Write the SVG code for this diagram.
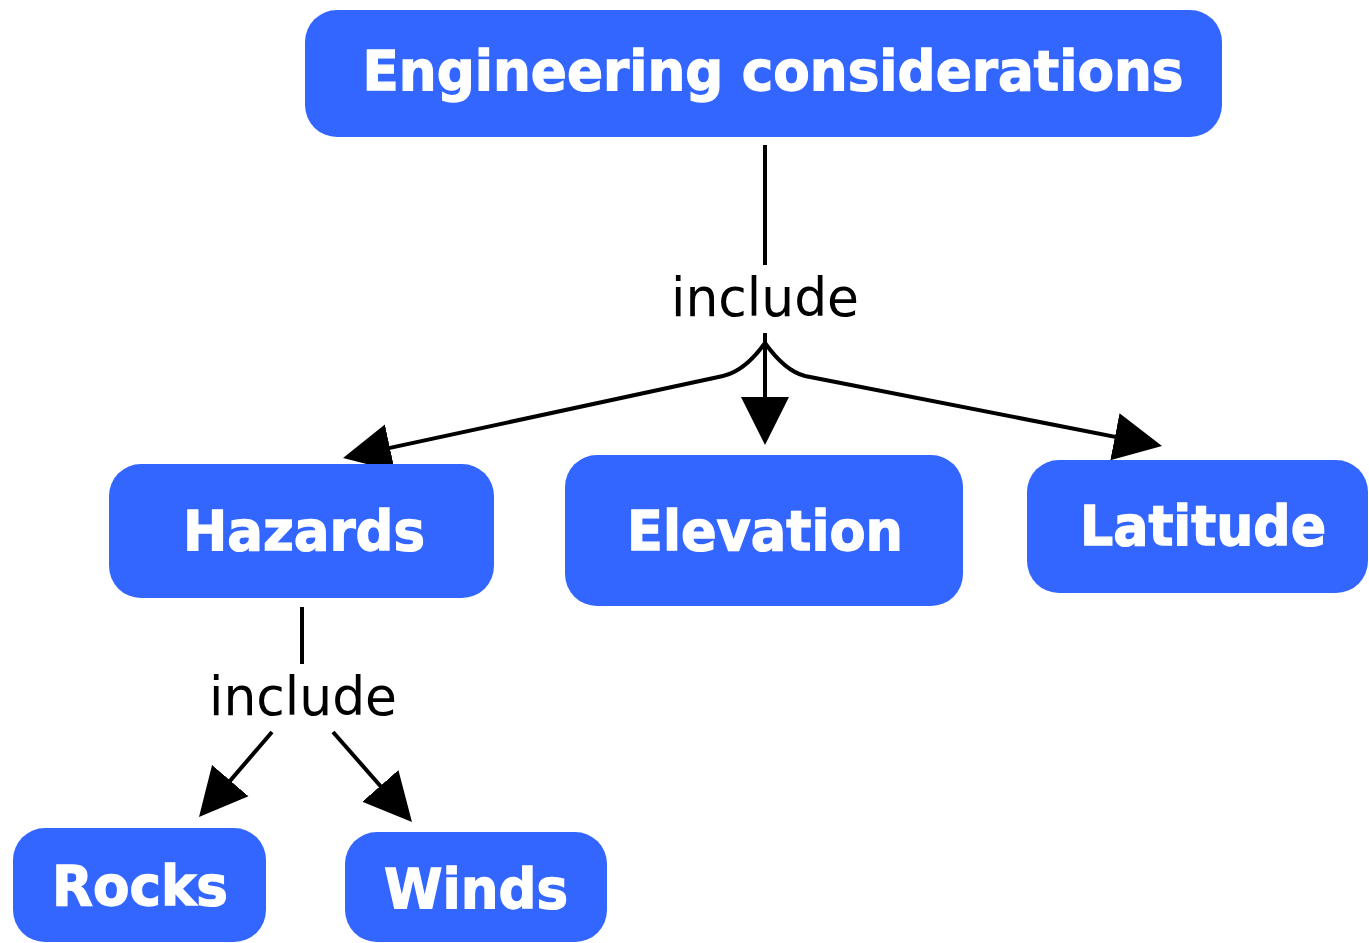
<svg xmlns="http://www.w3.org/2000/svg" width="1369" height="943" viewBox="0 0 1369 943">
<style>
.node{fill:#3366ff;}
.nt{font-family:"DejaVu Sans",Verdana,sans-serif;font-weight:bold;font-size:56px;fill:#ffffff;stroke:#ffffff;stroke-width:1.3;}
.lbl{font-family:"DejaVu Sans",Verdana,sans-serif;font-size:53px;fill:#000000;}
.ln{stroke:#000;stroke-width:4;fill:none;}
</style>
<defs>
<marker id="ah" markerUnits="userSpaceOnUse" markerWidth="50" markerHeight="50" refX="38" refY="24" orient="auto" viewBox="0 0 50 48">
<path d="M0,0 L48,24 L0,48 z" fill="#000"/>
</marker>
</defs>
<rect width="1369" height="943" fill="#ffffff"/>
<g id="connectors">
<line class="ln" x1="765" y1="145" x2="765" y2="265"/>
<text class="lbl" x="765" y="316" text-anchor="middle" textLength="188" lengthAdjust="spacingAndGlyphs">include</text>
<line class="ln" x1="765" y1="333" x2="765" y2="435" marker-end="url(#ah)"/>
<path class="ln" d="M765,343 Q745,371 723,376 L352.8,455.9" marker-end="url(#ah)"/>
<path class="ln" d="M765,343 Q785,371 805,376 L1152.2,444.1" marker-end="url(#ah)"/>
<line class="ln" x1="302" y1="607" x2="302" y2="664"/>
<text class="lbl" x="303" y="715" text-anchor="middle" textLength="188" lengthAdjust="spacingAndGlyphs">include</text>
<line class="ln" x1="272" y1="732" x2="205.5" y2="809.4" marker-end="url(#ah)"/>
<line class="ln" x1="333" y1="732" x2="405.4" y2="814.5" marker-end="url(#ah)"/>
</g>
<g id="n-engineering">
<rect class="node" x="305" y="10" width="917" height="127" rx="32"/>
<text class="nt" x="773" y="90" text-anchor="middle" textLength="821" lengthAdjust="spacingAndGlyphs">Engineering considerations</text>
</g>
<g id="n-hazards">
<rect class="node" x="109" y="464" width="385" height="134" rx="32"/>
<text class="nt" x="304" y="550" text-anchor="middle" textLength="242" lengthAdjust="spacingAndGlyphs">Hazards</text>
</g>
<g id="n-elevation">
<rect class="node" x="565" y="455" width="398" height="151" rx="32"/>
<text class="nt" x="765" y="550" text-anchor="middle" textLength="276" lengthAdjust="spacingAndGlyphs">Elevation</text>
</g>
<g id="n-latitude">
<rect class="node" x="1027" y="460" width="341" height="133" rx="32"/>
<text class="nt" x="1203" y="545" text-anchor="middle" textLength="246" lengthAdjust="spacingAndGlyphs">Latitude</text>
</g>
<g id="n-rocks">
<rect class="node" x="13" y="828" width="253" height="114" rx="32"/>
<text class="nt" x="140" y="905" text-anchor="middle" textLength="176" lengthAdjust="spacingAndGlyphs">Rocks</text>
</g>
<g id="n-winds">
<rect class="node" x="345" y="832" width="262" height="110" rx="32"/>
<text class="nt" x="476" y="908" text-anchor="middle" textLength="184" lengthAdjust="spacingAndGlyphs">Winds</text>
</g>
</svg>
